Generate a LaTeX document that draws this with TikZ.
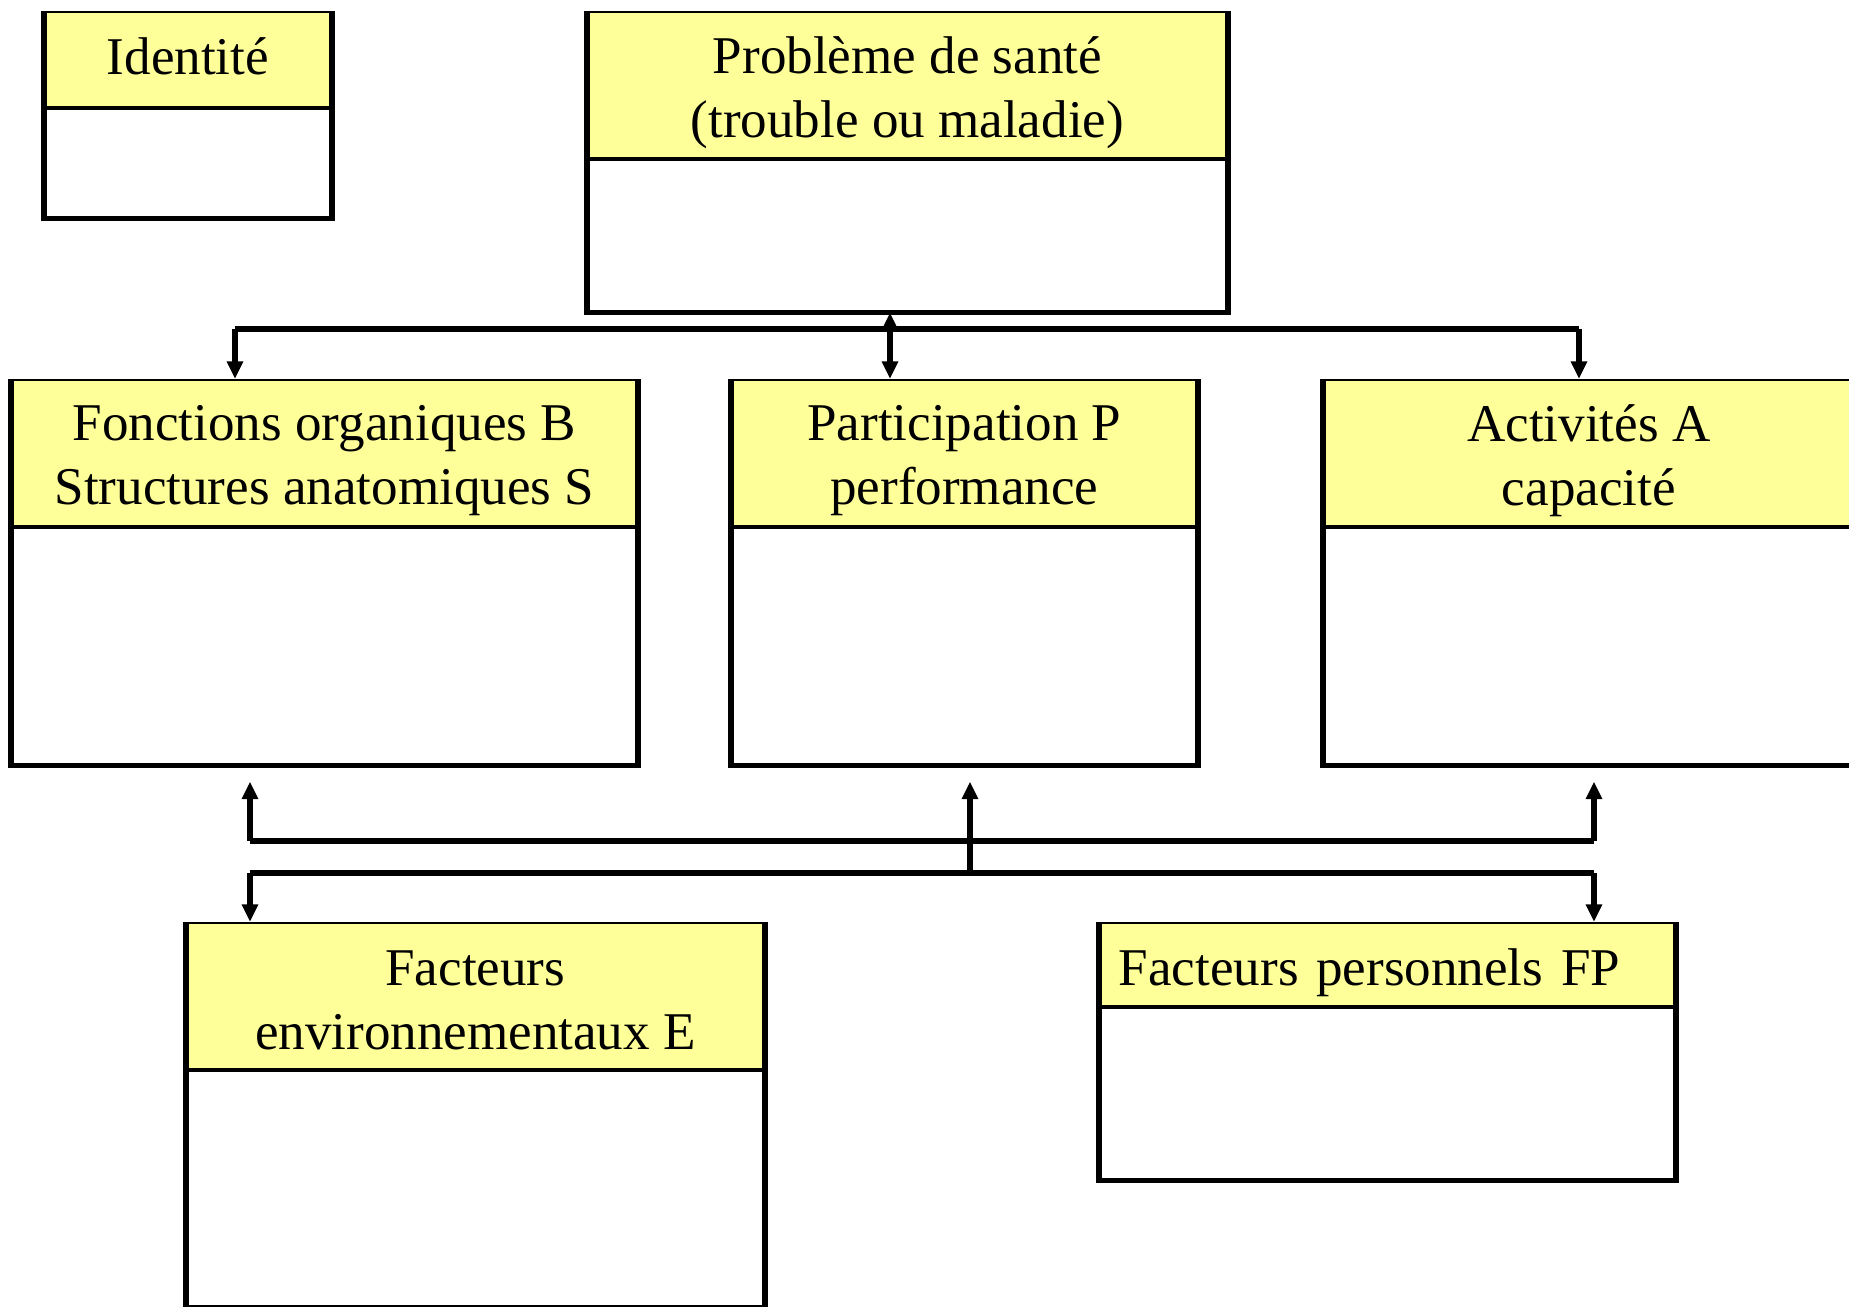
\documentclass[tikz,border=0pt]{standalone}
\usepackage{fontspec}
\setmainfont{Liberation Serif}
\usepackage{tikz}
\usetikzlibrary{arrows.meta,positioning,calc}
\definecolor{icfyellow}{RGB}{255,255,153}
% descend une ligne de titre sans changer sa taille
\newcommand{\lowtext}[2]{\raisebox{-#1}[\height][\depth]{#2}}

\begin{document}
\begin{tikzpicture}[
    hdr/.style={draw, line width=0.5pt, fill=icfyellow, anchor=north west, inner sep=0pt, align=center, font=\fontsize{15.1}{18.2}\selectfont},
    body/.style={draw, line width=0.5pt, fill=white, anchor=north west, inner sep=0pt},
    frame/.style={line width=1.7pt, line join=miter},
    line/.style={line width=1.7pt},
    arr/.style={-{Triangle[length=5pt, width=4.4pt]}, line width=1.7pt},
    dbl/.style={{Triangle[length=5pt, width=4.4pt]}-{Triangle[length=5pt, width=4.4pt]}, line width=1.7pt}
]
\useasboundingbox (0,0) rectangle (18.49,13.07);

% boites du haut
\node[hdr, minimum width=2.86cm, minimum height=0.95cm] (id) at (0.44,12.96) {\lowtext{-1pt}{Identité}};
\node[body, minimum width=2.86cm, minimum height=1.09cm] (idb) at (id.south west) {};
\node[hdr, minimum width=6.39cm, minimum height=1.46cm] (prob) at (5.87,12.96) {\lowtext{2.2pt}{Problème de santé}\\\lowtext{2.2pt}{(trouble ou maladie)}};
\node[body, minimum width=6.39cm, minimum height=1.52cm] (probb) at (prob.south west) {};

% boites du milieu
\node[hdr, minimum width=6.25cm, minimum height=1.46cm] (fonc) at (0.11,9.28) {\lowtext{2.2pt}{Fonctions organiques B}\\\lowtext{2.2pt}{Structures anatomiques S}};
\node[body, minimum width=6.25cm, minimum height=2.37cm] (foncb) at (fonc.south west) {};
\node[hdr, minimum width=4.65cm, minimum height=1.46cm] (part) at (7.31,9.28) {\lowtext{2.2pt}{Participation P}\\\lowtext{2.2pt}{performance}};
\node[body, minimum width=4.65cm, minimum height=2.37cm] (partb) at (part.south west) {};
\node[hdr, minimum width=5.30cm, minimum height=1.46cm] (act) at (13.23,9.28) {\lowtext{2.2pt}{Activités A}\\\lowtext{2.2pt}{capacité}};
\node[body, minimum width=5.30cm, minimum height=2.37cm] (actb) at (act.south west) {};

% boites du bas
\node[hdr, minimum width=5.77cm, minimum height=1.46cm] (env) at (1.86,3.85) {\lowtext{1.3pt}{Facteurs}\\\lowtext{1.3pt}{environnementaux E}};
\node[body, minimum width=5.77cm, minimum height=2.36cm] (envb) at (env.south west) {};
\node[hdr, minimum width=5.75cm, minimum height=0.83cm, align=left, text width=5.37cm, inner xsep=0.19cm] (pers) at (10.99,3.85) {\lowtext{2.3pt}{Facteurs personnels FP}};
\node[body, minimum width=5.75cm, minimum height=1.72cm] (persb) at (pers.south west) {};

% cadres epais
\draw[frame] (id.north west) -- (idb.south west) -- (idb.south east) -- (id.north east);
\draw[frame] (prob.north west) -- (probb.south west) -- (probb.south east) -- (prob.north east);
\draw[frame] (fonc.north west) -- (foncb.south west) -- (foncb.south east) -- (fonc.north east);
\draw[frame] (part.north west) -- (partb.south west) -- (partb.south east) -- (part.north east);
\draw[frame] (act.north west) -- (actb.south west) -- (actb.south east) -- (act.north east);
\draw[frame] (env.north west) -- (envb.south west) -- (envb.south east) -- (env.north east);
\draw[frame] (pers.north west) -- (persb.south west) -- (persb.south east) -- (pers.north east);

% liaisons du haut
\coordinate (t1) at (2.35,9.78);
\coordinate (t2) at (8.90,9.78);
\coordinate (t3) at (15.79,9.78);
\draw[line] (t1) -- (t3);
\draw[arr] (t1) -- (t1 |- fonc.north);
\draw[arr] (t3) -- (t3 |- act.north);
\draw[dbl] (t2 |- probb.south) -- (t2 |- part.north);

% liaisons du bas
\coordinate (u1) at (2.50,4.66);
\coordinate (u3) at (15.94,4.66);
\coordinate (l1) at (2.50,4.34);
\coordinate (l2) at (9.70,4.34);
\coordinate (l3) at (15.94,4.34);
\draw[line] (u1) -- (u3);
\draw[line] (l1) -- (l3);
\draw[arr, shorten >=0.16cm] (u1) -- (u1 |- foncb.south);
\draw[arr, shorten >=0.16cm] (l2) -- (l2 |- partb.south);
\draw[arr, shorten >=0.16cm] (u3) -- (u3 |- actb.south);
\draw[arr] (l1) -- (l1 |- env.north);
\draw[arr] (l3) -- (l3 |- pers.north);
\end{tikzpicture}
\end{document}
